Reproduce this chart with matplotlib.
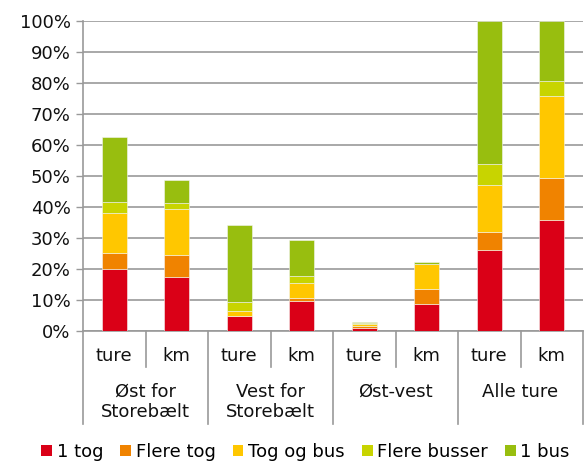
import matplotlib
matplotlib.use("Agg")
import matplotlib.pyplot as plt
import numpy as np
from matplotlib.patches import Patch
from matplotlib.lines import Line2D

# --- data (percent of trips) ---
groups = ["Øst for\nStorebælt", "Vest for\nStorebælt", "Øst-vest", "Alle ture"]
sub_labels = ["ture", "km"] * 4
series = ["1 tog", "Flere tog", "Tog og bus", "Flere busser", "1 bus"]
colors = ["#DA0017", "#F08300", "#FFC700", "#C8D400", "#98BE0F"]

tog1 = [20.1, 17.4, 4.7, 9.7, 1.0, 8.6, 26.2, 35.8]
flere_tog = [5.2, 7.2, 0.3, 1.1, 0.6, 5.0, 5.8, 13.5]
tog_bus = [12.7, 14.8, 1.5, 4.6, 0.8, 7.9, 15.1, 26.6]
flere_busser = [3.5, 1.9, 3.0, 2.2, 0.3, 0.2, 6.7, 4.7]
bus1 = [21.2, 7.3, 24.8, 11.8, 0.2, 0.6, 46.2, 19.4]

values = [tog1, flere_tog, tog_bus, flere_busser, bus1]

GRID = "#999999"

fig = plt.figure(figsize=(5.84, 4.61), dpi=100)
ax = fig.add_axes([83 / 584, (461 - 331) / 461, 500 / 584, 310 / 461])

x = np.arange(len(sub_labels))
bottom = np.zeros(len(x))
for name, vals, col in zip(series, values, colors):
    ax.bar(x, vals, width=0.4, bottom=bottom, color=col, edgecolor="#f4f4f4",
           linewidth=0.4, label=name, zorder=3)
    bottom += np.array(vals)

ax.set_xlim(-0.5, len(x) - 0.5)
ax.set_ylim(0, 100)
ax.set_yticks(np.arange(0, 101, 10))
ax.set_yticklabels([f"{v}%" for v in range(0, 101, 10)], fontsize=13, color="#111111")
ax.yaxis.grid(True, color=GRID, linewidth=1.2, zorder=0)
ax.tick_params(axis="y", length=5, width=1.0, color=GRID, pad=4)
ax.set_xticks([])
for s in ["top", "right", "bottom"]:
    ax.spines[s].set_visible(False)
ax.spines["left"].set_color(GRID)
ax.spines["left"].set_linewidth(1.2)

# multi-level category axis drawn below the plot
trans = ax.get_xaxis_transform()
px = 1 / 310  # one pixel in axes-y units
for i in range(len(x) + 1):
    pos = i - 0.5
    low = -(424 - 331) * px if i % 2 == 0 else -(367 - 331) * px
    ax.add_line(Line2D([pos, pos], [0, low], transform=trans, color=GRID,
                       linewidth=1.2, clip_on=False))
ax.add_line(Line2D([-0.5, len(x) - 0.5], [0, 0], transform=trans, color=GRID,
                   linewidth=1.2, clip_on=False))

for i, lab in enumerate(sub_labels):
    ax.text(i, -(356 - 331) * px, lab, transform=trans, ha="center", va="center",
            fontsize=13, color="#111111")
for g, lab in enumerate(groups):
    ax.text(2 * g + 0.5, -(383 - 331) * px, lab, transform=trans, ha="center",
            va="top", fontsize=13, color="#111111", linespacing=1.12)

handles = [Patch(facecolor=c, edgecolor="none", label=n) for n, c in zip(series, colors)]
fig.legend(handles=handles, loc="center", bbox_to_anchor=(305.5 / 584, 1 - 452 / 461),
           ncol=5, frameon=False, fontsize=13, handlelength=0.6, handleheight=0.6,
           handletextpad=0.25, columnspacing=0.95, borderaxespad=0, borderpad=0)

fig.savefig("out.png", dpi=100)
